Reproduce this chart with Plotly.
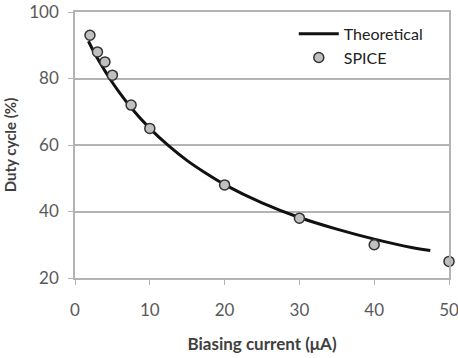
import plotly.graph_objects as go

# Theoretical curve
theory_x = [1.8, 2.5, 3, 4, 5, 6, 7.5, 10, 12.5, 15, 17.5, 20, 25, 30, 35, 40, 45, 47.5]
theory_y = [91.2, 88.1, 86.1, 82.3, 78.8, 75.6, 71.2, 65.0, 59.8, 55.3, 51.5, 48.1, 42.6, 38.2, 34.7, 31.7, 29.2, 28.3]

# SPICE simulation points
spice_x = [2, 3, 4, 5, 7.5, 10, 20, 30, 40, 50]
spice_y = [93, 88, 85, 81, 72, 65, 48, 38, 30, 25]

x_ticks = [0, 10, 20, 30, 40, 50]
y_ticks = [20, 40, 60, 80, 100]

FONT = "Lato, 'Open Sans', sans-serif"
GRID = "#b3b3b3"
TXT = "#595959"

fig = go.Figure()
fig.add_trace(go.Scatter(
    x=theory_x, y=theory_y, mode="lines", name="Theoretical",
    line=dict(color="#111111", width=3, shape="spline"),
))
fig.add_trace(go.Scatter(
    x=spice_x, y=spice_y, mode="markers", name="SPICE",
    marker=dict(size=10, color="#c0c0c0", line=dict(color="#333333", width=1.5)),
    cliponaxis=False,
))

fig.update_layout(
    width=458, height=358,
    margin=dict(l=75, r=9, t=12, b=80, autoexpand=False),
    paper_bgcolor="white", plot_bgcolor="white",
    font=dict(family=FONT, size=17, color=TXT),
    showlegend=True,
    legend=dict(x=0.585, y=0.982, xanchor="left", yanchor="top",
                bgcolor="rgba(0,0,0,0)", font=dict(size=16, color="#222222"),
                tracegroupgap=0, itemwidth=40),
    xaxis=dict(
        range=[0, 50], tickvals=x_ticks, ticks="outside", ticklen=5, tickcolor=GRID,
        showline=True, linecolor=GRID, linewidth=1.5, mirror=True,
        showgrid=False, zeroline=False, automargin=False,
        ticklabelstandoff=11, ticklabeloverflow="allow",
        title=dict(text="<b>Biasing current (μA)</b>", font=dict(size=17, color="#404040"), standoff=19),
    ),
    yaxis=dict(
        range=[20, 100], tickvals=y_ticks, ticks="outside", ticklen=5, tickcolor=GRID,
        showline=True, linecolor=GRID, linewidth=1.5, mirror=True,
        showgrid=True, gridcolor=GRID, gridwidth=1.5, zeroline=False, automargin=False,
        ticklabelstandoff=6, ticklabeloverflow="allow",
        title=dict(text="<b>Duty cycle (%)</b>", font=dict(size=15, color="#404040"), standoff=9),
    ),
)

fig.write_html("out.html")
